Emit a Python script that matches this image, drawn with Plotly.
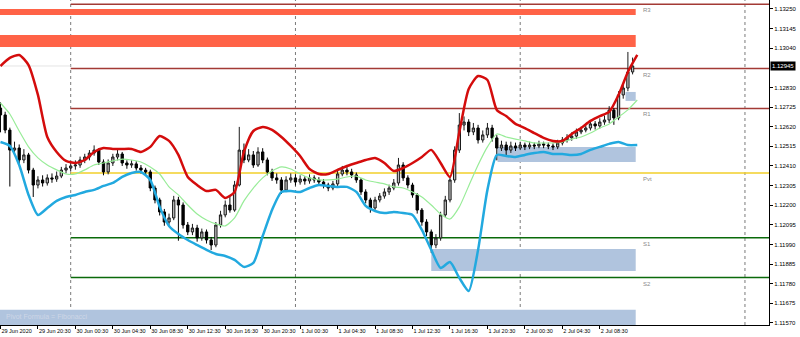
import pandas as pd
import plotly.graph_objects as go

# ---------------- data ----------------
candle_start = "2020-06-29 16:30"   # 30-minute candles
opens = [1.12720, 1.12683, 1.12602, 1.12495, 1.12506, 1.12442, 1.12469, 1.12388, 1.12308, 1.12335,
         1.12319, 1.12346, 1.12340, 1.12356, 1.12388, 1.12399, 1.12410, 1.12415, 1.12442, 1.12458,
         1.12479, 1.12495, 1.12431, 1.12378, 1.12426, 1.12458, 1.12474, 1.12426, 1.12415, 1.12421,
         1.12399, 1.12388, 1.12378, 1.12292, 1.12228, 1.12164, 1.12110, 1.12132, 1.12228, 1.12201,
         1.12094, 1.12057, 1.12078, 1.12025, 1.12057, 1.12014, 1.11987, 1.12094, 1.12148, 1.12201,
         1.12174, 1.12308, 1.12495, 1.12442, 1.12469, 1.12415, 1.12485, 1.12442, 1.12378, 1.12346,
         1.12335, 1.12281, 1.12335, 1.12346, 1.12324, 1.12340, 1.12330, 1.12346, 1.12335, 1.12324,
         1.12308, 1.12292, 1.12314, 1.12367, 1.12388, 1.12378, 1.12362, 1.12335, 1.12271, 1.12228,
         1.12185, 1.12228, 1.12249, 1.12271, 1.12292, 1.12319, 1.12415, 1.12346, 1.12308, 1.12255,
         1.12174, 1.12110, 1.12057, 1.11987, 1.12025, 1.12148, 1.12228, 1.12335, 1.12495, 1.12629,
         1.12645, 1.12592, 1.12613, 1.12549, 1.12576, 1.12613, 1.12560, 1.12506, 1.12522, 1.12495,
         1.12517, 1.12506, 1.12522, 1.12512, 1.12522, 1.12517, 1.12528, 1.12522, 1.12517, 1.12512,
         1.12533, 1.12549, 1.12560, 1.12570, 1.12592, 1.12602, 1.12613, 1.12635, 1.12624, 1.12645,
         1.12656, 1.12709, 1.12667, 1.12790, 1.12827, 1.12913]
highs = [1.12750, 1.12700, 1.12615, 1.12540, 1.12525, 1.12500, 1.12480, 1.12400, 1.12355, 1.12360,
         1.12365, 1.12370, 1.12380, 1.12405, 1.12420, 1.12430, 1.12440, 1.12460, 1.12475, 1.12495,
         1.12520, 1.12505, 1.12445, 1.12445, 1.12475, 1.12505, 1.12485, 1.12440, 1.12440, 1.12435,
         1.12415, 1.12400, 1.12390, 1.12305, 1.12240, 1.12180, 1.12155, 1.12250, 1.12245, 1.12215,
         1.12110, 1.12100, 1.12095, 1.12075, 1.12070, 1.12030, 1.12110, 1.12170, 1.12225, 1.12250,
         1.12330, 1.12619, 1.12530, 1.12500, 1.12490, 1.12510, 1.12505, 1.12455, 1.12395, 1.12370,
         1.12350, 1.12355, 1.12370, 1.12365, 1.12360, 1.12355, 1.12365, 1.12360, 1.12350, 1.12340,
         1.12320, 1.12330, 1.12385, 1.12410, 1.12405, 1.12395, 1.12375, 1.12345, 1.12285, 1.12240,
         1.12245, 1.12265, 1.12290, 1.12310, 1.12340, 1.12453, 1.12430, 1.12360, 1.12320, 1.12265,
         1.12185, 1.12125, 1.12070, 1.12045, 1.12165, 1.12250, 1.12355, 1.12515, 1.12693, 1.12675,
         1.12660, 1.12640, 1.12630, 1.12600, 1.12640, 1.12630, 1.12575, 1.12545, 1.12540, 1.12540,
         1.12535, 1.12540, 1.12535, 1.12540, 1.12535, 1.12545, 1.12540, 1.12535, 1.12530, 1.12550,
         1.12565, 1.12580, 1.12590, 1.12610, 1.12620, 1.12635, 1.12655, 1.12650, 1.12665, 1.12680,
         1.12730, 1.12720, 1.12810, 1.12850, 1.13020, 1.12990]
lows = [1.12590, 1.12585, 1.12300, 1.12470, 1.12420, 1.12425, 1.12370, 1.12244, 1.12290, 1.12300,
        1.12305, 1.12320, 1.12325, 1.12345, 1.12370, 1.12380, 1.12390, 1.12400, 1.12425, 1.12440,
        1.12465, 1.12415, 1.12360, 1.12365, 1.12410, 1.12440, 1.12410, 1.12395, 1.12400, 1.12385,
        1.12370, 1.12360, 1.12275, 1.12210, 1.12145, 1.12090, 1.12095, 1.12120, 1.12010, 1.12075,
        1.12040, 1.12040, 1.12005, 1.12010, 1.11995, 1.11960, 1.11975, 1.12080, 1.12135, 1.12160,
        1.12165, 1.12300, 1.12425, 1.12430, 1.12400, 1.12405, 1.12425, 1.12360, 1.12330, 1.12315,
        1.12260, 1.12270, 1.12320, 1.12305, 1.12310, 1.12310, 1.12315, 1.12320, 1.12305, 1.12290,
        1.12275, 1.12280, 1.12300, 1.12355, 1.12360, 1.12345, 1.12320, 1.12255, 1.12210, 1.12160,
        1.12175, 1.12215, 1.12235, 1.12255, 1.12280, 1.12305, 1.12330, 1.12290, 1.12240, 1.12155,
        1.12090, 1.12035, 1.11944, 1.11970, 1.12010, 1.12135, 1.12215, 1.12320, 1.12480, 1.12600,
        1.12570, 1.12575, 1.12530, 1.12535, 1.12560, 1.12540, 1.12440, 1.12490, 1.12465, 1.12480,
        1.12490, 1.12495, 1.12495, 1.12500, 1.12500, 1.12505, 1.12505, 1.12500, 1.12495, 1.12500,
        1.12520, 1.12535, 1.12545, 1.12555, 1.12580, 1.12590, 1.12600, 1.12605, 1.12610, 1.12630,
        1.12640, 1.12630, 1.12655, 1.12770, 1.12810, 1.12900]
closes = [1.12683, 1.12602, 1.12495, 1.12506, 1.12442, 1.12469, 1.12388, 1.12308, 1.12335, 1.12319,
          1.12346, 1.12340, 1.12356, 1.12388, 1.12399, 1.12410, 1.12415, 1.12442, 1.12458, 1.12479,
          1.12495, 1.12431, 1.12378, 1.12426, 1.12458, 1.12474, 1.12426, 1.12415, 1.12421, 1.12399,
          1.12388, 1.12378, 1.12292, 1.12228, 1.12164, 1.12110, 1.12132, 1.12228, 1.12201, 1.12094,
          1.12057, 1.12078, 1.12025, 1.12057, 1.12014, 1.11987, 1.12094, 1.12148, 1.12201, 1.12174,
          1.12308, 1.12495, 1.12442, 1.12469, 1.12415, 1.12485, 1.12442, 1.12378, 1.12346, 1.12335,
          1.12281, 1.12335, 1.12346, 1.12324, 1.12340, 1.12330, 1.12346, 1.12335, 1.12324, 1.12308,
          1.12292, 1.12314, 1.12367, 1.12388, 1.12378, 1.12362, 1.12335, 1.12271, 1.12228, 1.12185,
          1.12228, 1.12249, 1.12271, 1.12292, 1.12319, 1.12415, 1.12346, 1.12308, 1.12255, 1.12174,
          1.12110, 1.12057, 1.11987, 1.12025, 1.12148, 1.12228, 1.12335, 1.12495, 1.12629, 1.12645,
          1.12592, 1.12613, 1.12549, 1.12576, 1.12613, 1.12560, 1.12506, 1.12522, 1.12495, 1.12517,
          1.12506, 1.12522, 1.12512, 1.12522, 1.12517, 1.12528, 1.12522, 1.12517, 1.12512, 1.12533,
          1.12549, 1.12560, 1.12570, 1.12592, 1.12602, 1.12613, 1.12635, 1.12624, 1.12645, 1.12656,
          1.12709, 1.12667, 1.12790, 1.12827, 1.12913, 1.12945]

band_start = "2020-06-29 16:30"     # hourly indicator readings
upper_band = [1.12945, 1.12988, 1.13004, 1.12950, 1.12790, 1.12565, 1.12485, 1.12437, 1.12426, 1.12442,
              1.12485, 1.12506, 1.12501, 1.12501, 1.12501, 1.12485, 1.12512, 1.12570, 1.12544, 1.12469,
              1.12351, 1.12308, 1.12276, 1.12282, 1.12239, 1.12271, 1.12485, 1.12597, 1.12619, 1.12603,
              1.12565, 1.12517, 1.12463, 1.12394, 1.12367, 1.12367, 1.12389, 1.12410, 1.12426, 1.12442,
              1.12453, 1.12426, 1.12383, 1.12399, 1.12426, 1.12458, 1.12496, 1.12426, 1.12351, 1.12592,
              1.12822, 1.12891, 1.12870, 1.12710, 1.12677, 1.12635, 1.12613, 1.12586, 1.12560, 1.12544,
              1.12544, 1.12581, 1.12613, 1.12651, 1.12677, 1.12699, 1.12790, 1.12913, 1.13004]
lower_band = [1.12538, 1.12517, 1.12415, 1.12255, 1.12148, 1.12185, 1.12223, 1.12244, 1.12255, 1.12271,
              1.12282, 1.12303, 1.12319, 1.12351, 1.12372, 1.12378, 1.12335, 1.12191, 1.12089, 1.12046,
              1.12014, 1.11987, 1.11961, 1.11939, 1.11928, 1.11907, 1.11870, 1.11891, 1.12035, 1.12175,
              1.12271, 1.12276, 1.12271, 1.12292, 1.12308, 1.12303, 1.12298, 1.12298, 1.12271, 1.12196,
              1.12169, 1.12158, 1.12164, 1.12158, 1.12148, 1.12068, 1.11961, 1.11864, 1.11896, 1.11811,
              1.11741, 1.11961, 1.12282, 1.12469, 1.12463, 1.12458, 1.12469, 1.12479, 1.12485, 1.12474,
              1.12474, 1.12469, 1.12474, 1.12496, 1.12512, 1.12528, 1.12538, 1.12522, 1.12522]
middle_ma = [1.12747, 1.12688, 1.12597, 1.12512, 1.12453, 1.12415, 1.12389, 1.12367, 1.12367, 1.12389,
             1.12415, 1.12426, 1.12437, 1.12447, 1.12442, 1.12431, 1.12405, 1.12367, 1.12298, 1.12255,
             1.12201, 1.12153, 1.12121, 1.12100, 1.12089, 1.12132, 1.12223, 1.12292, 1.12346, 1.12383,
             1.12405, 1.12394, 1.12367, 1.12346, 1.12335, 1.12335, 1.12340, 1.12351, 1.12356, 1.12335,
             1.12324, 1.12314, 1.12298, 1.12292, 1.12271, 1.12244, 1.12201, 1.12153, 1.12126, 1.12191,
             1.12303, 1.12415, 1.12512, 1.12581, 1.12565, 1.12554, 1.12544, 1.12533, 1.12533, 1.12533,
             1.12538, 1.12554, 1.12565, 1.12586, 1.12613, 1.12635, 1.12672, 1.12710, 1.12763]

# Fibonacci pivot levels
pivot_names = ["R3", "R2", "R1", "Pvt", "S1", "S2"]
pivot_values = [1.13275, 1.12931, 1.12718, 1.12372, 1.12026, 1.11813]
pivot_colors = ["#a33a35", "#a33a35", "#a33a35", "#f2cf2a", "#0a6a0a", "#0a6a0a"]
pivot_from = "2020-06-30 00:00"

# supply / demand zones
zone_start = ["2020-06-29 12:00", "2020-06-29 12:00", "2020-07-02 11:15",
              "2020-07-01 21:35", "2020-07-01 14:30", "2020-06-29 12:00"]
zone_end = ["2020-07-02 12:20"] * 6
zone_low = [1.13218, 1.13047, 1.12758, 1.12431, 1.11848, 1.11500]
zone_high = [1.13250, 1.13111, 1.12806, 1.12512, 1.11966, 1.11640]
zone_color = ["#ff6347", "#ff6347", "#b0c4de", "#b0c4de", "#b0c4de", "#b0c4de"]

day_separators = ["2020-06-30", "2020-07-01", "2020-07-02", "2020-07-03"]
prev_bid = 1.12945
current_price = 1.12945

x_tick_times = pd.date_range("2020-06-29 16:30", periods=17, freq="4h")
x_tick_labels = ["29 Jun 2020", "29 Jun 20:30", "30 Jun 00:30", "30 Jun 04:30", "30 Jun 08:30",
                 "30 Jun 12:30", "30 Jun 16:30", "30 Jun 20:30", "1 Jul 00:30", "1 Jul 04:30",
                 "1 Jul 08:30", "1 Jul 12:30", "1 Jul 16:30", "1 Jul 20:30", "2 Jul 00:30",
                 "2 Jul 04:30", "2 Jul 08:30"]
y_tick_values = [1.13250, 1.13145, 1.13040, 1.12830, 1.12725, 1.12620, 1.12515, 1.12410,
                 1.12305, 1.12200, 1.12095, 1.11990, 1.11885, 1.11780, 1.11675, 1.11570]

# ---------------- figure ----------------
candle_times = pd.date_range(candle_start, periods=len(closes), freq="30min")
band_times = pd.date_range(band_start, periods=len(upper_band), freq="1h")

fig = go.Figure()

for xs, xe, lo, hi, col in zip(zone_start, zone_end, zone_low, zone_high, zone_color):
    fig.add_shape(type="rect", xref="x", yref="y", x0=xs, x1=xe, y0=lo, y1=hi,
                  fillcolor=col, line=dict(width=0), layer="below")

for d in day_separators:
    fig.add_shape(type="line", xref="x", yref="paper", x0=d, x1=d, y0=0, y1=1,
                  line=dict(color="#7a7a7a", width=1, dash="dot"), layer="below")

fig.add_shape(type="line", xref="x", yref="y", x0="2020-06-29 12:00", x1=pivot_from,
              y0=prev_bid, y1=prev_bid, line=dict(color="#e4e4e4", width=1), layer="below")

for name, val, col in zip(pivot_names, pivot_values, pivot_colors):
    fig.add_shape(type="line", xref="x", yref="y", x0=pivot_from, x1="2020-07-04",
                  y0=val, y1=val, line=dict(color=col, width=1.5), layer="below")
    fig.add_annotation(x="2020-07-02 12:55", y=val, xref="x", yref="y", text=name,
                       showarrow=False, xanchor="left", yanchor="top", yshift=-1,
                       font=dict(size=6, color="#8a8a8a", family="Liberation Sans, Arial"))

fig.add_trace(go.Candlestick(
    x=candle_times, open=opens, high=highs, low=lows, close=closes,
    increasing=dict(line=dict(color="#1a1a1a", width=1), fillcolor="#bdbdbd"),
    decreasing=dict(line=dict(color="#000000", width=1), fillcolor="#000000"),
    whiskerwidth=0, showlegend=False, hoverinfo="skip"))

fig.add_trace(go.Scatter(x=band_times, y=middle_ma, mode="lines",
                         line=dict(color="#98ec98", width=1.2, shape="spline", smoothing=0.6),
                         showlegend=False, hoverinfo="skip"))
fig.add_trace(go.Scatter(x=band_times, y=upper_band, mode="lines",
                         line=dict(color="#d40c0c", width=2.5, shape="spline", smoothing=0.6),
                         showlegend=False, hoverinfo="skip"))
fig.add_trace(go.Scatter(x=band_times, y=lower_band, mode="lines",
                         line=dict(color="#22a9df", width=2.5, shape="spline", smoothing=0.6),
                         showlegend=False, hoverinfo="skip"))

fig.add_annotation(x=0.005, y=1.11605, xref="paper", yref="y", text="Pivot Formula = Fibonacci",
                   showarrow=False, xanchor="left", yanchor="middle",
                   font=dict(size=7, color="#cdd6e6", family="Liberation Sans, Arial"))

fig.add_annotation(x=1, y=current_price, xref="paper", yref="y", text=f"{current_price:.5f}",
                   showarrow=False, xanchor="left", yanchor="middle", xshift=1,
                   bgcolor="#000000", borderpad=1,
                   font=dict(size=6, color="#ffffff", family="Liberation Sans, Arial"))

fig.update_layout(
    width=800, height=337,
    margin=dict(l=0, r=31, t=0, b=12, autoexpand=False),
    paper_bgcolor="#ffffff", plot_bgcolor="#ffffff",
    showlegend=False,
    font=dict(family="Liberation Sans, Arial", color="#000000"),
    xaxis=dict(
        type="date", range=["2020-06-29 16:27", "2020-07-03 02:34"],
        rangeslider=dict(visible=False),
        tickmode="array", tickvals=x_tick_times, ticktext=x_tick_labels,
        tickangle=0, automargin=False,
        ticks="outside", ticklen=3, tickcolor="#000000",
        ticklabelposition="outside right",
        tickfont=dict(size=5.5, color="#000000"),
        showgrid=False, zeroline=False,
        showline=True, linecolor="#000000", linewidth=1,
    ),
    yaxis=dict(
        side="right", range=[1.11559, 1.13298], automargin=False,
        tickmode="array", tickvals=y_tick_values, ticktext=[f"{v:.5f}" for v in y_tick_values],
        ticks="outside", ticklen=3, tickcolor="#000000",
        tickfont=dict(size=6, color="#000000"),
        showgrid=False, zeroline=False,
        showline=True, linecolor="#000000", linewidth=1,
    ),
)

fig.write_html("out.html")
